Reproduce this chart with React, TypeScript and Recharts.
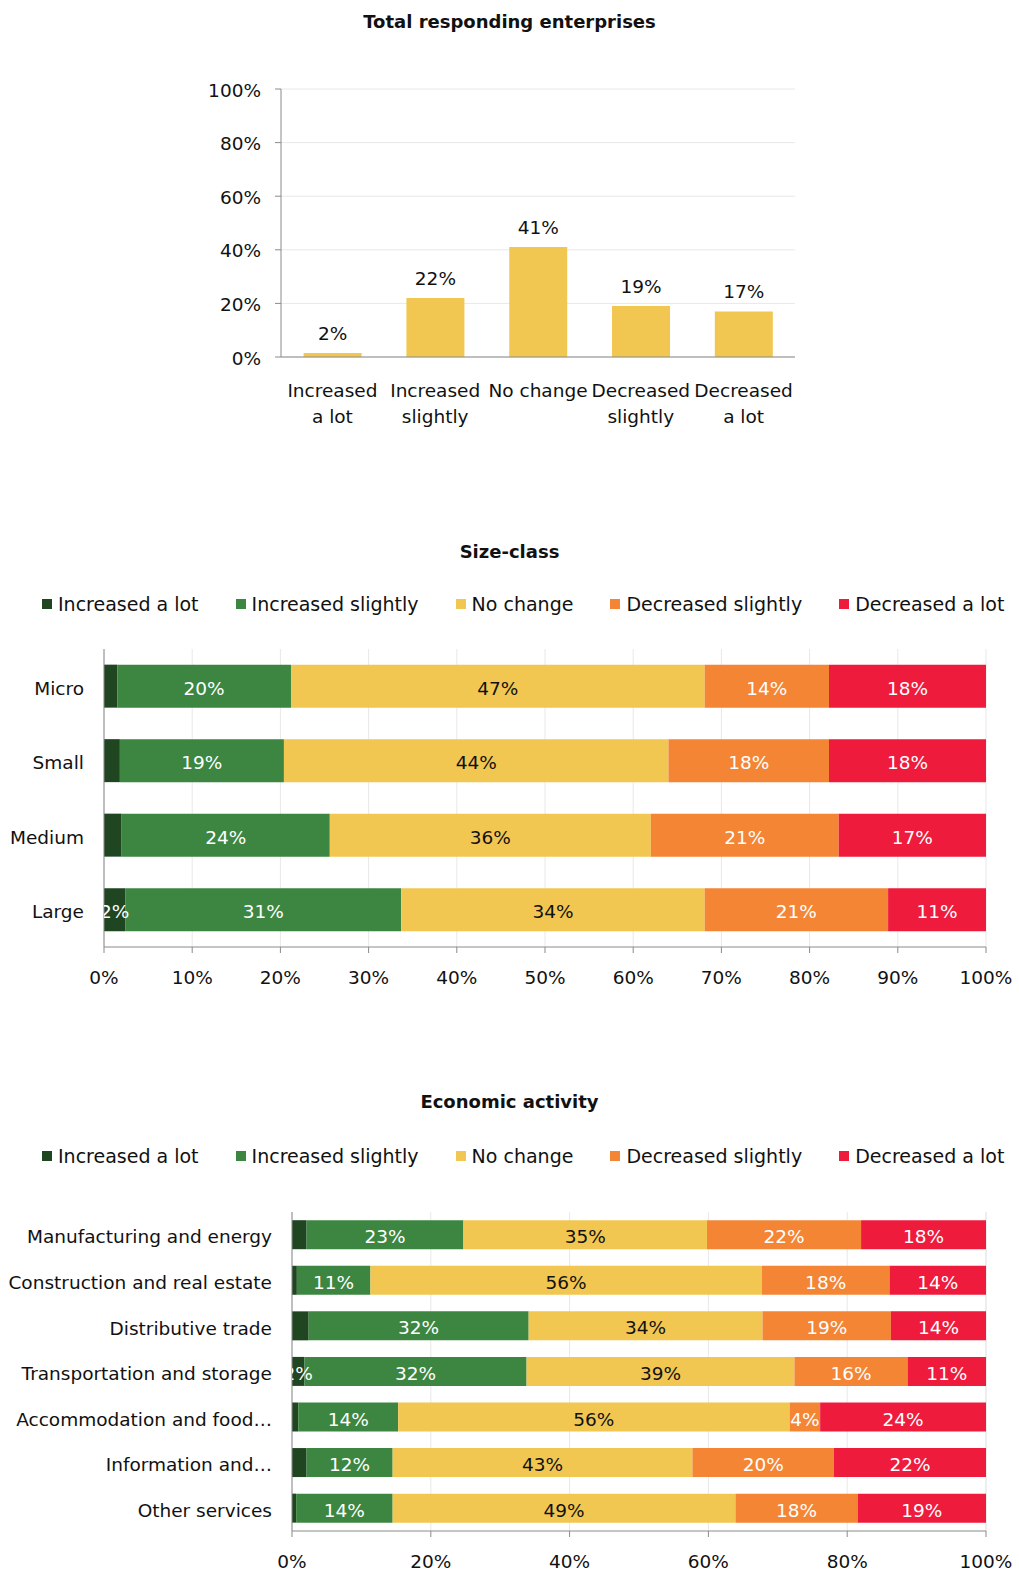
import React from 'react'
import { BarChart, Bar, XAxis, YAxis, CartesianGrid, LabelList } from 'recharts'

const FONT = "'DejaVu Sans', Verdana, Tahoma, sans-serif"
const INK = '#111111'
const AXIS_GREY = '#8a8a8a'
const GRID_GREY = '#e8e8e8'
const FS = 18.5

// answer options, in legend and stacking order
const answers = ['Increased a lot', 'Increased slightly', 'No change', 'Decreased slightly', 'Decreased a lot']
const answerTickLines = [['Increased', 'a lot'], ['Increased', 'slightly'], ['No change'], ['Decreased', 'slightly'], ['Decreased', 'a lot']]
const answerColors = ['#1f4521', '#3c8641', '#f2c751', '#f38535', '#ee1b3c']
const answerLabelInk = ['#ffffff', '#ffffff', '#111111', '#ffffff', '#ffffff']
const seriesKeys = ['incLot', 'incSlight', 'noChange', 'decSlight', 'decLot']

// total responding enterprises (% per answer)
const totalShares = [1.5, 22, 41, 19, 17]
const totalTicks = [0, 20, 40, 60, 80, 100]

// size-class breakdown (%)
const sizeClasses = ['Micro', 'Small', 'Medium', 'Large']
const sizeIncLot = [1.5, 1.8, 2.0, 2.4]
const sizeIncSlight = [19.7, 18.6, 23.6, 31.3]
const sizeNoChange = [46.9, 43.6, 36.4, 34.4]
const sizeDecSlight = [14.1, 18.2, 21.3, 20.8]
const sizeDecLot = [17.8, 17.8, 16.7, 11.1]
const sizeIncLotLabelled = [false, false, false, true]
const sizeTicks = [0, 10, 20, 30, 40, 50, 60, 70, 80, 90, 100]

// economic activity breakdown (%)
const activities = [
  'Manufacturing and energy',
  'Construction and real estate',
  'Distributive trade',
  'Transportation and storage',
  'Accommodation and food…',
  'Information and…',
  'Other services',
]
const actIncLot = [2.1, 0.7, 2.4, 1.8, 0.9, 2.1, 0.6]
const actIncSlight = [22.6, 10.6, 31.7, 32.0, 14.4, 12.4, 13.9]
const actNoChange = [35.1, 56.4, 33.7, 38.6, 56.4, 43.2, 49.4]
const actDecSlight = [22.2, 18.4, 18.5, 16.3, 4.4, 20.4, 17.6]
const actDecLot = [18.0, 13.9, 13.7, 11.3, 23.9, 21.9, 18.5]
const actIncLotLabelled = [false, false, false, true, false, false, false]
const actTicks = [0, 20, 40, 60, 80, 100]

const pct = (v: any) => `${Math.round(Number(v))}%`
const edges = (n: number) => Array.from({ length: n + 1 }, (_, i) => i)

function buildRows(names: string[], cols: number[][]) {
  return names.map((name, i) => {
    const row: Record<string, any> = { name }
    seriesKeys.forEach((k, j) => { row[k] = cols[j][i] })
    return row
  })
}

const totalRows = answers.map((name, i) => ({ name, share: totalShares[i] }))
const sizeRows = buildRows(sizeClasses, [sizeIncLot, sizeIncSlight, sizeNoChange, sizeDecSlight, sizeDecLot])
const actRows = buildRows(activities, [actIncLot, actIncSlight, actNoChange, actDecSlight, actDecLot])

function Title({ top, children }: { top: number; children: React.ReactNode }) {
  return (
    <div style={{ position: 'absolute', top, left: 0, width: 1019, height: 42, lineHeight: '42px', textAlign: 'center', fontWeight: 'bold', fontSize: 18 }}>
      {children}
    </div>
  )
}

function SeriesLegend({ top }: { top: number }) {
  return (
    <div style={{ position: 'absolute', top, left: 42, display: 'flex', gap: 37, fontSize: 19, lineHeight: '24px', whiteSpace: 'nowrap' }}>
      {answers.map((a, i) => (
        <div key={a} style={{ display: 'flex', alignItems: 'center', gap: 6 }}>
          <span style={{ display: 'inline-block', width: 10, height: 10, background: answerColors[i] }} />
          <span>{a}</span>
        </div>
      ))}
    </div>
  )
}

function AnswerTick(props: any) {
  const { x, y, payload } = props
  const lines = answerTickLines[answers.indexOf(payload.value)] ?? [payload.value]
  return (
    <text x={x} y={y} textAnchor="middle" fill={INK} fontSize={FS}>
      {lines.map((l, i) => (
        <tspan key={i} x={x} dy={i === 0 ? '0.71em' : 26}>{l}</tspan>
      ))}
    </text>
  )
}

function CategoryTick(props: any) {
  const { x, y, payload } = props
  return (
    <text x={x} y={y + 2} dy="0.36em" textAnchor="end" fill={INK} fontSize={FS}>{payload.value}</text>
  )
}

// small first segment: label centred on it but clipped at the plot's left edge
function clippedLabel(shown: boolean[], id: string) {
  return (props: any) => {
    const vb = props.viewBox ?? props
    const { x, y, width, height } = vb
    if (!shown[props.index]) return null
    const clip = `${id}-${props.index}`
    return (
      <g>
        <clipPath id={clip}><rect x={x} y={y} width={400} height={height} /></clipPath>
        <text x={x + width / 2} y={y + height / 2 + 2} dy="0.36em" textAnchor="middle" fill="#ffffff" fontSize={FS} clipPath={`url(#${clip})`}>
          {pct(props.value)}
        </text>
      </g>
    )
  }
}

function TotalChart() {
  return (
    <div style={{ position: 'absolute', top: 0, left: 0 }}>
      <BarChart width={1019} height={440} data={totalRows} barCategoryGap="22%" margin={{ top: 89, right: 224, bottom: 0, left: 221 }}>
        <CartesianGrid vertical={false} stroke={GRID_GREY} />
        <XAxis type="number" domain={[0, answers.length]} ticks={edges(answers.length)} interval={0} height={1} tick={false} tickSize={9} stroke={AXIS_GREY} allowDataOverflow />
        <XAxis xAxisId="cat" dataKey="name" type="category" height={82} axisLine={false} tickLine={false} tickSize={0} tickMargin={26} interval={0} tick={<AnswerTick />} />
        <YAxis type="number" domain={[0, 100]} ticks={totalTicks} interval={0} width={60} tickSize={6} tickMargin={14} stroke={AXIS_GREY} tickFormatter={(v) => `${v}%`} tick={{ fontSize: FS, fill: INK, dy: 1 }} />
        <Bar dataKey="share" xAxisId="cat" fill={answerColors[2]} isAnimationActive={false}>
          <LabelList dataKey="share" position="top" offset={13} formatter={pct} fill={INK} fontSize={FS} />
        </Bar>
      </BarChart>
    </div>
  )
}

interface StackProps {
  id: string
  rows: Record<string, any>[]
  labelled: boolean[]
  xTicks: number[]
  top: number
  height: number
  marginTop: number
  plotLeft: number
  catWidth: number
  xAxisHeight: number
  gap: string
}

function ShareStack({ id, rows, labelled, xTicks, top, height, marginTop, plotLeft, catWidth, xAxisHeight, gap }: StackProps) {
  return (
    <div style={{ position: 'absolute', top, left: 0 }}>
      <BarChart layout="vertical" width={1019} height={height} data={rows} barCategoryGap={gap}
        margin={{ top: marginTop, right: 33, bottom: 0, left: plotLeft - 1 - catWidth }}>
        <CartesianGrid horizontal={false} stroke={GRID_GREY} />
        <XAxis type="number" domain={[0, 100]} ticks={xTicks} interval={0} height={xAxisHeight} tickSize={6} tickMargin={18} stroke={AXIS_GREY} tickFormatter={(v) => `${v}%`} tick={{ fontSize: FS, fill: INK }} />
        <YAxis type="number" domain={[0, rows.length]} ticks={edges(rows.length)} interval={0} width={1} tick={false} tickSize={6} stroke={AXIS_GREY} allowDataOverflow />
        <YAxis yAxisId="cat" type="category" dataKey="name" width={catWidth} axisLine={false} tickLine={false} tickSize={0} tickMargin={19} interval={0} tick={<CategoryTick />} />
        {seriesKeys.map((k, i) => (
          <Bar key={k} dataKey={k} stackId="s" yAxisId="cat" fill={answerColors[i]} isAnimationActive={false}>
            {i === 0
              ? <LabelList dataKey={k} content={clippedLabel(labelled, id)} />
              : <LabelList dataKey={k} position="center" formatter={pct} fill={answerLabelInk[i]} fontSize={FS} dy={2} />}
          </Bar>
        ))}
      </BarChart>
    </div>
  )
}

export default function App() {
  return (
    <div style={{ position: 'relative', width: 1019, height: 1571, overflow: 'hidden', fontFamily: FONT, color: INK, background: '#ffffff' }}>
      <style>{'body{margin:0}'}</style>
      <Title top={1}>Total responding enterprises</Title>
      <TotalChart />

      <Title top={531}>Size-class</Title>
      <SeriesLegend top={592} />
      <ShareStack id="size" rows={sizeRows} labelled={sizeIncLotLabelled} xTicks={sizeTicks}
        top={630} height={370} marginTop={19} plotLeft={104} catWidth={99} xAxisHeight={53} gap="21%" />

      <Title top={1081}>Economic activity</Title>
      <SeriesLegend top={1144} />
      <ShareStack id="act" rows={actRows} labelled={actIncLotLabelled} xTicks={actTicks}
        top={1190} height={381} marginTop={22} plotLeft={292} catWidth={279} xAxisHeight={40} gap="18%" />
    </div>
  )
}
